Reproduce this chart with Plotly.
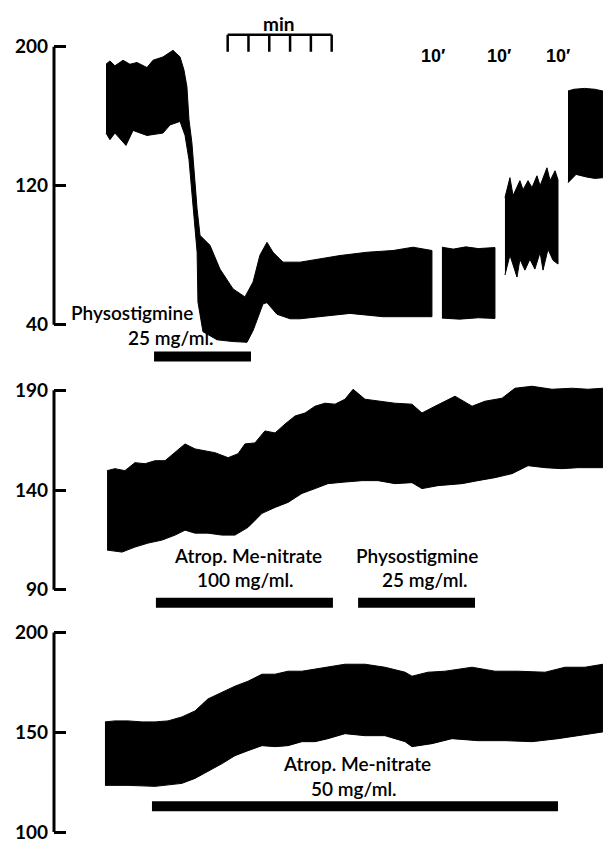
import plotly.graph_objects as go

W, H = 603, 843

# ---------------- data (time t in chart minutes, pressure in mm Hg) ----------------
# Panel 1 : segment A (continuous record)
p1a_top_t = [0, 0.19, 0.43, 0.82, 1.15, 1.49, 1.97, 2.26, 2.74, 3.22, 3.56, 3.75, 3.89, 3.99,
             4.13, 4.28, 4.38, 4.52, 5.0, 5.48, 6.11, 6.68, 7.07, 7.4, 7.74, 8.03, 8.51, 9.33,
             10.29, 11.25, 12.55, 13.8, 14.76, 15.67]
p1a_top_v = [189.9, 191.8, 189, 192.2, 189.9, 190.9, 188, 192.2, 194.1, 197.9, 194.1, 186.5, 177,
             157.9, 144.6, 119.8, 106.5, 91.4, 85.7, 72, 60.6, 56, 64.6, 80, 87.4, 81.7, 76, 76,
             77.9, 79.8, 81.7, 82.7, 84.6, 82.7]
p1a_bot_t = [0, 0.19, 0.43, 0.96, 1.3, 1.97, 2.74, 3.08, 3.56, 3.8, 3.99, 4.18, 4.38, 4.42, 4.66,
             5.34, 6.11, 6.78, 7.07, 7.55, 7.74, 8.22, 8.85, 9.33, 11.73, 13.32, 15.67]
p1a_bot_v = [150.3, 146.5, 150.3, 143.2, 151.8, 148.9, 150.3, 155, 157, 148.9, 135, 110.3, 81.7,
             53.1, 36, 31.3, 30.3, 29.9, 36.6, 52, 52.7, 46, 43.4, 43.4, 46.5, 44.6, 44.6]
# segment B (after 10 min)
p1b_top_t = [16.15, 16.7, 17.3, 17.9, 18.7]
p1b_top_v = [84.6, 83.5, 84.8, 83.8, 84.4]
p1b_bot_t = [16.15, 17.0, 17.9, 18.7]
p1b_bot_v = [43.8, 43.2, 44.0, 43.6]
# segment C
p1c_top_t = [19.18, 19.42, 19.57, 19.9, 20.05, 20.29, 20.48, 20.72, 20.87, 21.2, 21.35, 21.59, 21.73]
p1c_top_v = [113.1, 124.6, 114.3, 122.9, 117.7, 122.9, 118.9, 125.7, 120, 130.3, 122.9, 128.6, 123.4]
p1c_bot_t = [19.18, 19.42, 19.76, 19.9, 20.14, 20.38, 20.62, 20.87, 21.01, 21.25, 21.49, 21.73]
p1c_bot_v = [68.6, 80, 67.4, 77.7, 71.4, 77.7, 72, 81.7, 71.4, 83.4, 77.1, 74.9]
# segment D
p1d_top_t = [22.21, 22.5, 23.0, 23.5, 23.89]
p1d_top_v = [174.5, 175.5, 176, 175.5, 174.5]
p1d_bot_t = [22.21, 22.6, 23.1, 23.5, 23.89]
p1d_bot_v = [121.7, 126.5, 125, 124.2, 124.6]

# Panel 2
p2_top_t = [0.05, 0.43, 0.91, 1.39, 1.88, 2.36, 2.84, 3.32, 3.80, 4.28, 4.76, 5.24, 5.87, 6.35,
            6.68, 7.16, 7.64, 8.13, 8.61, 9.09, 9.57, 10.05, 10.53, 11.01, 11.49, 11.88, 12.45,
            13.08, 13.89, 14.71, 15.19, 15.82, 16.78, 17.6, 18.22, 19.04, 19.66, 20.48, 21.44,
            22.4, 23.17, 23.89]
p2_top_v = [149.7, 150.7, 149.7, 153.7, 153.2, 154.7, 154.7, 158.7, 163.1, 160.6, 159.7, 158.7,
            156.2, 158.2, 163.1, 163.6, 169.6, 168.6, 173.1, 177.1, 178.6, 182, 183.5, 183, 185.5,
            190.5, 185.5, 184.5, 183.5, 183, 178.6, 182, 187, 182, 184.5, 186, 191, 192, 190.5,
            191, 190.5, 191]
p2_bot_t = [0.05, 0.77, 1.39, 2.02, 2.69, 3.32, 3.80, 4.28, 4.90, 5.58, 6.20, 6.83, 7.5, 8.13,
            8.75, 9.42, 10.05, 10.67, 11.49, 12.31, 13.08, 13.89, 14.71, 15.19, 15.96, 17.12,
            17.88, 18.7, 19.52, 20.29, 21.11, 21.92, 22.69, 23.89]
p2_bot_v = [109.9, 108.9, 111.4, 113.4, 114.9, 117.4, 119.9, 118.4, 118.4, 117.4, 117.4, 121.3,
            128.3, 131.3, 133.8, 138.3, 140.7, 143.2, 144, 144.7, 144.7, 143.2, 143.7, 140.7,
            142.2, 143.2, 144.7, 146.2, 148.2, 152.2, 151.2, 150.7, 151.2, 151.2]

# Panel 3
p3_top_t = [-0.05, 0.43, 1.06, 1.73, 2.36, 2.98, 3.65, 4.28, 4.9, 5.58, 6.2, 6.83, 7.5, 8.13,
            8.75, 9.42, 10.05, 10.67, 11.49, 12.45, 13.41, 14.38, 14.71, 15.48, 16.3, 17.6, 18.7,
            19.81, 21.11, 22.07, 23.03, 23.89]
p3_top_v = [155.2, 155.7, 155.7, 155.2, 155.2, 155.7, 157.7, 160.7, 166.7, 170.1, 173.1, 175.6,
            179.1, 179.1, 180.6, 180.6, 181.6, 182.6, 184.1, 184.1, 182.6, 180.1, 178.1, 180.1,
            180.6, 182.6, 180.6, 180.6, 180.1, 182.6, 182.6, 184.1]
p3_bot_t = [-0.05, 1.06, 2.36, 3.65, 4.28, 4.9, 5.58, 6.2, 6.83, 7.5, 8.13, 8.75, 9.42, 10.05,
            10.67, 11.49, 12.45, 13.41, 14.38, 14.71, 15.67, 16.63, 17.88, 19.18, 20.48, 21.73,
            22.69, 23.89]
p3_bot_v = [123.4, 123.4, 122.9, 124.4, 126.9, 130.3, 134.3, 138.3, 140.8, 143.3, 142.8, 143.3,
            145.3, 145.3, 146.8, 149.3, 148.3, 148.3, 145.3, 142.8, 144.3, 146.8, 145.8, 145.8,
            145.3, 146.8, 148.3, 150.2]

# drug application bars (start, end) and their level
p1_bars = [(2.31, 6.97)]
p1_bar_level = 21.7
p2_bars = [(2.40, 10.91), (12.12, 17.74)]
p2_bar_level = 83.5
p3_bars = [(2.21, 21.73)]
p3_bar_level = 112.9

# axis ticks
p1_ticks = [40, 120, 200]
p2_ticks = [90, 140, 190]
p3_ticks = [100, 150, 200]

# minute time-scale
min_scale_start = 5.85
min_scale_ticks = [0, 1, 2, 3, 4, 5]
min_scale_level = 206.9
min_scale_tick_bottom = 197.1

# ---------------- figure ----------------
def paper(xp, yp):
    return xp / W, 1 - yp / H

fig = go.Figure()

def band(top_t, top_v, bot_t, bot_v, xa, ya):
    fig.add_trace(go.Scatter(
        x=list(top_t) + list(bot_t)[::-1],
        y=list(top_v) + list(bot_v)[::-1],
        mode="lines", fill="toself", fillcolor="black",
        line=dict(color="black", width=1),
        xaxis=xa, yaxis=ya, hoverinfo="skip", showlegend=False))

band(p1a_top_t, p1a_top_v, p1a_bot_t, p1a_bot_v, "x", "y")
band(p1b_top_t, p1b_top_v, p1b_bot_t, p1b_bot_v, "x", "y")
band(p1c_top_t, p1c_top_v, p1c_bot_t, p1c_bot_v, "x", "y")
band(p1d_top_t, p1d_top_v, p1d_bot_t, p1d_bot_v, "x", "y")
band(p2_top_t, p2_top_v, p2_bot_t, p2_bot_v, "x2", "y2")
band(p3_top_t, p3_top_v, p3_bot_t, p3_bot_v, "x3", "y3")

def bars(blist, level, xa, ya):
    xs, ys = [], []
    for a, b in blist:
        xs += [a, b, None]
        ys += [level, level, None]
    fig.add_trace(go.Scatter(x=xs, y=ys, mode="lines",
                             line=dict(color="black", width=10),
                             xaxis=xa, yaxis=ya, hoverinfo="skip", showlegend=False))

bars(p1_bars, p1_bar_level, "x", "y")
bars(p2_bars, p2_bar_level, "x2", "y2")
bars(p3_bars, p3_bar_level, "x3", "y3")

# minute scale bar
sx = [min_scale_start + min_scale_ticks[0], min_scale_start + min_scale_ticks[-1], None]
sy = [min_scale_level, min_scale_level, None]
for k in min_scale_ticks:
    sx += [min_scale_start + k, min_scale_start + k, None]
    sy += [min_scale_level, min_scale_tick_bottom, None]
fig.add_trace(go.Scatter(x=sx, y=sy, mode="lines", line=dict(color="black", width=2.5),
                         xaxis="x", yaxis="y", hoverinfo="skip", showlegend=False))

x_dom = [54 / W, 1]
x_rng = [-2.5, 23.894]

def yaxis(domain_px, rng, ticks):
    return dict(domain=[1 - domain_px[1] / H, 1 - domain_px[0] / H], range=rng,
                tickmode="array", tickvals=ticks, ticks="inside", ticklen=12,
                tickwidth=3, tickcolor="black", showgrid=False, zeroline=False,
                showline=False, ticklabelstandoff=5, ticklabeloverflow="allow",
                tickfont=dict(family="Lato", size=19, color="black", weight="bold"))

xax = dict(domain=x_dom, range=x_rng, visible=False)
fig.update_layout(
    width=W, height=H, margin=dict(l=0, r=0, t=0, b=0),
    paper_bgcolor="white", plot_bgcolor="white", showlegend=False,
    xaxis=dict(xax, anchor="y"), xaxis2=dict(xax, anchor="y2"), xaxis3=dict(xax, anchor="y3"),
    yaxis=dict(yaxis((18, 362), [40 - 39 / 1.75, 200 + 25 / 1.75], p1_ticks), anchor="x"),
    yaxis2=dict(yaxis((370, 620), [90 - 30 / 2.01, 190 + 19 / 2.01], p2_ticks), anchor="x2"),
    yaxis3=dict(yaxis((625, 843), [100 - 9 / 2.01, 200 + 8 / 2.01], p3_ticks), anchor="x3"),
)

# axis spines from lowest to highest tick
for ya, tk in (("y", p1_ticks), ("y2", p2_ticks), ("y3", p3_ticks)):
    xa = "x" if ya == "y" else "x" + ya[1:]
    fig.add_shape(type="line", xref=xa + " domain", yref=ya, x0=0, x1=0,
                  y0=min(tk), y1=max(tk), line=dict(color="black", width=3))

label_font = dict(family="Lato", size=19, color="black", weight=600)
def note(text, xp, yp, font=label_font):
    xx, yy = paper(xp, yp)
    fig.add_annotation(text=text, x=xx, y=yy, xref="paper", yref="paper",
                       showarrow=False, font=font, xanchor="center", yanchor="middle",
                       borderpad=0)

note("min", 278, 20, dict(family="Lato", size=19, color="black", weight="bold"))
for xp in (433, 499, 558):
    note("10′", xp, 52, dict(family="Liberation Sans", size=18, color="black", weight="bold"))
note("Physostigmine", 132, 311)
note("25 mg/ml.", 171, 336)
note("Atrop. Me-nitrate", 248, 555)
note("100 mg/ml.", 245, 580)
note("Physostigmine", 417, 555)
note("25 mg/ml.", 425, 580)
note("Atrop. Me-nitrate", 357, 765)
note("50 mg/ml.", 354, 790)

fig.write_html("out.html", config={"displayModeBar": False},
               post_script="document.body.style.margin='0';document.body.style.overflow='hidden';")
